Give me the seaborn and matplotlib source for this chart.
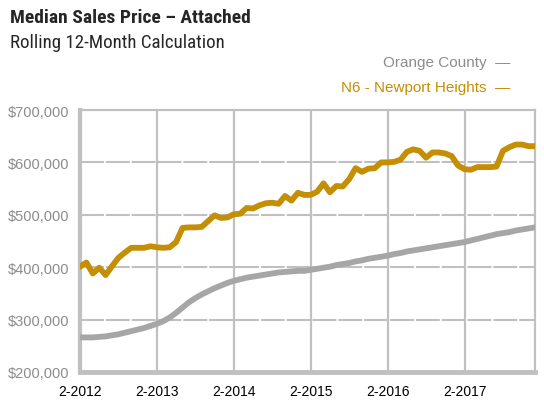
import matplotlib
matplotlib.use("Agg")
import matplotlib.pyplot as plt
from matplotlib import font_manager
import seaborn as sns
import pandas as pd

# Median sales price, rolling 12 months, 2-2012 .. 1-2018 (in $1000s)
newport = [401, 409, 388, 399, 385, 402, 418, 428, 437, 437, 437, 440,
           438, 437, 438, 448, 475, 476, 476, 477, 488, 499, 494, 495,
           501, 502, 513, 512, 518, 522, 523, 521, 536, 527, 542, 538,
           538, 544, 560, 543, 555, 554, 568, 589, 582, 588, 589, 600,
           600, 601, 605, 620, 625, 622, 609, 619, 619, 617, 612, 594,
           587, 586, 591, 591, 591, 592, 622, 629, 634, 634, 631, 631]
orange = [266, 266, 266, 267, 268, 270, 272, 275, 278, 281, 284, 288,
          292, 297, 304, 313, 323, 333, 341, 348, 354, 360, 365, 370,
          374, 377, 380, 382, 384, 386, 388, 390, 391, 392, 393, 393,
          395, 397, 399, 401, 404, 406, 408, 411, 413, 416, 418, 420,
          422, 425, 427, 430, 432, 434, 436, 438, 440, 442, 444, 446,
          448, 451, 454, 457, 460, 463, 465, 467, 470, 472, 474, 476]
xtick_labels = ["2-2012", "2-2013", "2-2014", "2-2015", "2-2016", "2-2017"]
ytick_values = [200000, 300000, 400000, 500000, 600000, 700000]

gold = "#C48F05"
grey = "#A6A6A6"
grid_c = "#C0C0C0"

df = pd.DataFrame({
    "month": list(range(len(newport))) * 2,
    "price": [v * 1000 for v in orange] + [v * 1000 for v in newport],
    "area": ["Orange County"] * len(orange) + ["N6 - Newport Heights"] * len(newport),
})

sns.set_style("white")
plt.rcParams["font.family"] = ["Liberation Sans", "DejaVu Sans"]

# narrow font for the heading if one is around
names = {f.name for f in font_manager.fontManager.ttflist}
head_font = "Liberation Sans"
for cand in ["Roboto Condensed", "Liberation Sans Narrow", "Roboto"]:
    if cand in names:
        head_font = cand
        break

fig = plt.figure(figsize=(5.44, 4.06), dpi=100)
ax = fig.add_axes([80 / 544, 33 / 406, 455 / 544, 262 / 406])

sns.lineplot(data=df, x="month", y="price", hue="area",
             palette={"Orange County": grey, "N6 - Newport Heights": gold},
             linewidth=4.2, legend=False, ax=ax, zorder=3)

ax.set_xlim(0, 71)
ax.set_ylim(200000, 700000)
ax.set_xticks(range(0, 12 * len(xtick_labels), 12))
ax.set_xticklabels(xtick_labels, fontsize=10, color="black")
ax.set_yticks(ytick_values)
ax.set_yticklabels(["${:,.0f}".format(v) for v in ytick_values], fontsize=10.5, color="#8C8C8C")
ax.set_xlabel("")
ax.set_ylabel("")

# grid
for y in ytick_values[1:-1]:
    ax.axhline(y, color=grid_c, lw=1.5, ls=(0, (11.5, 0.9)), zorder=1)
for x in range(12, 12 * len(xtick_labels), 12):
    ax.axvline(x, color=grid_c, lw=1.6, zorder=1)

for side in ["top", "right"]:
    ax.spines[side].set_color(grid_c)
    ax.spines[side].set_linewidth(1.6)
ax.spines["left"].set_color(grid_c)
ax.spines["left"].set_linewidth(3)
ax.spines["bottom"].set_color(grid_c)
ax.spines["bottom"].set_linewidth(3.5)
ax.tick_params(axis="y", length=0, pad=8)
ax.tick_params(axis="x", length=0, pad=9)

fig.text(10 / 544, 1 - 18 / 406, "Median Sales Price – Attached", fontsize=14,
         fontweight="bold", family=[head_font, "DejaVu Sans"],
         va="center", ha="left")
fig.text(10 / 544, 1 - 43 / 406, "Rolling 12-Month Calculation", fontsize=13.6,
         family=[head_font, "DejaVu Sans"], va="center", ha="left")
fig.text(510 / 544, 1 - 63 / 406, "Orange County  —", fontsize=11,
         color="#8C8C8C", va="center", ha="right")
fig.text(510 / 544, 1 - 88 / 406, "N6 - Newport Heights  —", fontsize=11,
         color=gold, va="center", ha="right")

fig.savefig("out.png", dpi=100)
